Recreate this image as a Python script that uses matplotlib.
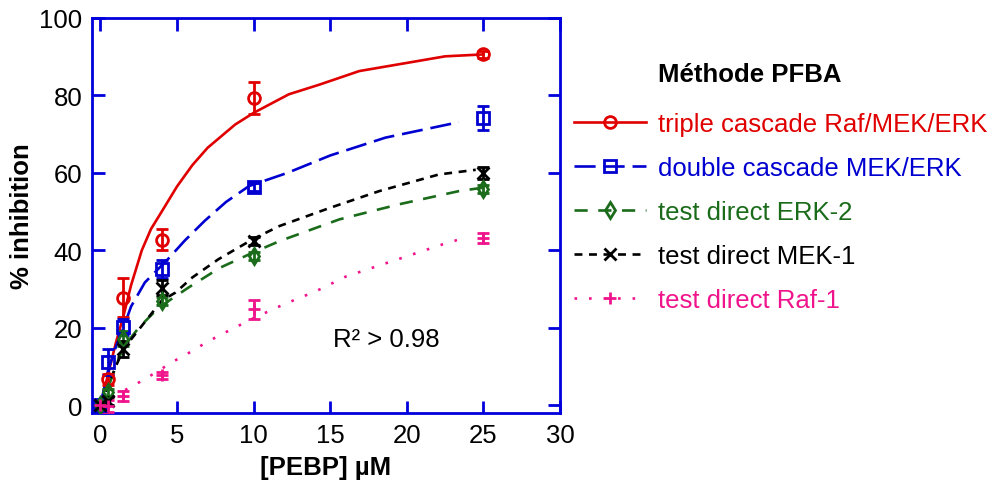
import matplotlib.pyplot as plt
from matplotlib.lines import Line2D

# Global parameters
plt.rcParams['font.family'] = ['Liberation Sans', 'DejaVu Sans']
axis_blue = "#0000dd"
font_size = 18.5

# Measured points ([PEBP] in uM, % inhibition, error)
conc = [0, 0.5, 1.5, 4, 10, 25]

triple_y = [0, 6.7, 27.8, 42.8, 79.4, 90.6]
triple_err = [0.5, 1.5, 5, 2.8, 4.2, 1]
double_y = [0, 11.2, 20.2, 35.1, 56.4, 74.2]
double_err = [0.5, 3.3, 2, 2.3, 1, 3]
erk_y = [0, 3.3, 17.2, 26.9, 38.6, 55.9]
erk_err = [0.5, 1, 2, 1, 1, 1]
mek_y = [0, 1.1, 14.5, 30.4, 42.4, 60.0]
mek_err = [0.5, 1, 2, 2, 1, 1.5]
raf_y = [0, -0.2, 2.4, 7.7, 24.8, 43.3]
raf_err = [0.5, 1.5, 1.2, 1, 2.4, 1.3]

# Fitted curves
triple_fit_x = [0, 0.5, 1, 1.5, 2, 2.7, 3.3, 4, 5, 6, 7, 8.8, 10, 12.3, 14.3, 16.9, 20, 22.5, 25]
triple_fit_y = [0, 8, 16, 23, 31, 40, 45.5, 50, 56.5, 62, 66.5, 72.5, 75.5, 80.3, 82.8, 86.3, 88.4, 90.1, 90.6]
double_fit_x = [0, 0.5, 1, 1.5, 2, 2.9, 4.4, 5.5, 6.8, 8.2, 9.7, 12.2, 15, 18.6, 23.4]
double_fit_y = [0, 9, 15, 20, 25.5, 31.7, 37.7, 42.5, 47.6, 52.5, 56.6, 60, 64.5, 69.1, 73.1]
erk_fit_x = [0, 0.5, 1, 1.5, 2.5, 3.8, 5.75, 7.8, 10, 11.7, 15.6, 19.5, 23.4, 25]
erk_fit_y = [0, 4.5, 10, 15, 20, 25.2, 30.4, 35.5, 39.5, 42.4, 48, 51.9, 55.3, 56.2]
mek_fit_x = [0, 0.5, 1, 1.5, 2.7, 4, 4.9, 6, 7.7, 10, 11.7, 15, 18.2, 22.1, 24.5]
mek_fit_y = [0, 5, 10, 14.5, 20.5, 27, 29.1, 33, 37.7, 43, 46.3, 51, 55.3, 59.6, 60.8]
raf_fit_x = [0, 0.5, 1.5, 2.8, 4.8, 5.9, 6.9, 7.9, 10, 12, 14.1, 16, 18.2, 20.4, 22.3, 23.4]
raf_fit_y = [0, 1.3, 3.7, 6.5, 11.4, 13.8, 16.2, 18.3, 22.5, 26.1, 29.5, 33.2, 36.1, 39, 41.5, 42.8]

labels = ["triple cascade Raf/MEK/ERK", "double cascade MEK/ERK", "test direct ERK-2",
          "test direct MEK-1", "test direct Raf-1"]
colors = ["#e00000", "#0000d0", "#1a6b1a", "black", "#f0148c"]
markers = ["o", "s", "d", "x", "+"]
dashes = [None, (8, 3), (5, 4), (3, 2.5), (1, 4.5)]

series = [
    (triple_y, triple_err, triple_fit_x, triple_fit_y),
    (double_y, double_err, double_fit_x, double_fit_y),
    (erk_y, erk_err, erk_fit_x, erk_fit_y),
    (mek_y, mek_err, mek_fit_x, mek_fit_y),
    (raf_y, raf_err, raf_fit_x, raf_fit_y),
]

fig = plt.figure(figsize=(9.96, 4.81), dpi=100)
ax = fig.add_axes([92 / 996, 1 - 414 / 481, 468 / 996, 395 / 481])

handles = []
for (y, err, fx, fy), lab, c, m, d in zip(series, labels, colors, markers, dashes):
    # Fitted curve
    line, = ax.plot(fx, fy, color=c, lw=1.9, zorder=2)
    if d is not None:
        line.set_dashes(d)
    # Measured points with error bars
    ax.errorbar(conc, y, yerr=err, fmt=m, color=c, mfc="none", mec=c, ms=8.5, mew=2,
                elinewidth=2, capsize=4, capthick=2, zorder=3)
    # Legend proxy: line + marker
    h = Line2D([], [], color=c, lw=1.9, marker=m, mfc="none", mec=c, ms=8.5, mew=2)
    if d is not None:
        h.set_dashes(d)
    handles.append(h)

ax.set_xlim(-0.55, 30)
ax.set_ylim(-2, 100)
ax.set_xticks(range(0, 31, 5))
ax.set_yticks(range(0, 101, 20))

# Blue frame with inward ticks on all sides
for sp in ax.spines.values():
    sp.set_color(axis_blue)
    sp.set_linewidth(2)
ax.tick_params(direction="in", length=9, width=2, color=axis_blue, labelsize=font_size,
               top=True, right=True, pad=7)

ax.set_xlabel("[PEBP] µM", fontsize=font_size, fontweight="bold", labelpad=6)
ax.set_ylabel("% inhibition", fontsize=font_size, fontweight="bold", labelpad=4)

ax.text(15.2, 17, "R² > 0.98", fontsize=font_size, va="center")

# Legend title drawn separately for its spacing
fig.text(750 / 996, 1 - 75 / 481, "Méthode PFBA", fontsize=font_size, fontweight="bold",
         ha="center", va="center")
leg = fig.legend(handles, labels, loc="upper left", bbox_to_anchor=(551 / 996, 1 - 90 / 481),
                 frameon=False, fontsize=font_size, handlelength=2.8, handletextpad=0.45,
                 labelspacing=0.78, labelcolor=colors)

fig.savefig("out.png", dpi=100)
